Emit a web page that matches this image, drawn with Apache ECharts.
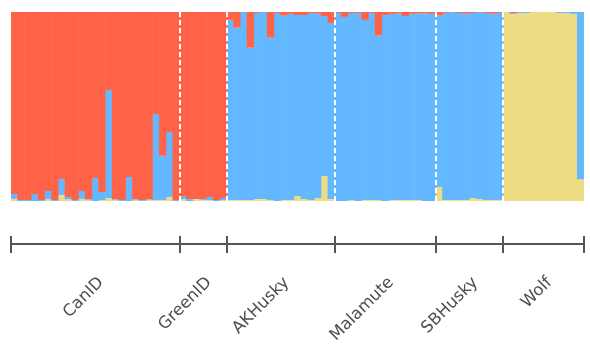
<!DOCTYPE html>
<html>
<head>
<meta charset="utf-8">
<title>Ancestry proportions</title>
<script src="https://cdn.jsdelivr.net/npm/echarts@6/dist/echarts.min.js"></script>
</head>
<body style="margin:0;background:#fff">
<div id="main" style="width:590px;height:354px;"></div>
<script>
// group names and number of individuals per group
var groups = ['CanID', 'GreenID', 'AKHusky', 'Malamute', 'SBHusky', 'Wolf'];
var groupSizes = [25, 7, 16, 15, 10, 12];

// ancestry proportions per individual (bottom -> top: yellow, blue, red)
var yellow = [
  0.011, 0, 0, 0, 0, 0.009, 0, 0.032, 0.009, 0, 0.011, 0.004, 0, 0.005, 0.016, 0.004, 0, 0, 0.004, 0, 0.005, 0.005, 0.005, 0.021, 0,
  0.01, 0, 0.01, 0.005, 0.005, 0, 0.005,
  0.005, 0.005, 0.005, 0.005, 0.01, 0.01, 0.005, 0, 0.005, 0.005, 0.026, 0.01, 0.005, 0.016, 0.132, 0.01,
  0, 0, 0.005, 0, 0.005, 0.005, 0.005, 0, 0.005, 0.005, 0.005, 0.005, 0.005, 0, 0,
  0.074, 0.005, 0.005, 0.005, 0.005, 0.016, 0.01, 0.005, 0.005, 0.005,
  1, 0.99, 0.995, 0.995, 1, 1, 1, 1, 0.995, 0.995, 0.99, 0.115
];
var blue = [
  0.026, 0.005, 0.005, 0.037, 0.005, 0.044, 0.005, 0.084, 0.012, 0.005, 0.042, 0.005, 0.122, 0.043, 0.571, 0.005, 0.005, 0.127, 0.005, 0.005, 0.004, 0.455, 0.235, 0.344, 0.005,
  0.016, 0.01, 0, 0.005, 0.016, 0.005, 0.011,
  0.953, 0.912, 0.995, 0.806, 0.985, 0.99, 0.859, 0.995, 0.976, 0.985, 0.958, 0.974, 0.99, 0.975, 0.847, 0.932,
  0.995, 0.974, 0.99, 0.995, 0.953, 0.99, 0.87, 0.984, 0.985, 0.988, 0.974, 0.985, 0.988, 0.993, 0.99,
  0.907, 0.99, 0.995, 0.99, 0.986, 0.979, 0.99, 0.99, 0.986, 0.99,
  0, 0.005, 0.005, 0.005, 0, 0, 0, 0, 0.005, 0.005, 0.01, 0.885
];
var red = [
  0.963, 0.995, 0.995, 0.963, 0.995, 0.947, 0.995, 0.884, 0.979, 0.995, 0.947, 0.991, 0.878, 0.952, 0.413, 0.991, 0.995, 0.873, 0.991, 0.995, 0.991, 0.54, 0.76, 0.635, 0.995,
  0.974, 0.99, 0.99, 0.99, 0.979, 0.995, 0.984,
  0.042, 0.083, 0, 0.189, 0.005, 0, 0.136, 0.005, 0.019, 0.01, 0.016, 0.016, 0.005, 0.009, 0.021, 0.058,
  0.005, 0.026, 0.005, 0.005, 0.042, 0.005, 0.125, 0.016, 0.01, 0.007, 0.021, 0.01, 0.007, 0.007, 0.01,
  0.019, 0.005, 0, 0.005, 0.009, 0.005, 0, 0.005, 0.009, 0.005,
  0, 0.005, 0, 0, 0, 0, 0, 0, 0, 0, 0, 0
];

var individuals = [];
for (var i = 0; i < red.length; i++) individuals.push(i + 1);

var bounds = [0]; // group edges, in individuals
var labelPos = [];
var labelName = {};
for (var g = 0; g < groupSizes.length; g++) {
  var start = bounds[bounds.length - 1];
  var mid = start + groupSizes[g] / 2;
  labelPos.push(mid);
  labelName[mid] = groups[g];
  bounds.push(start + groupSizes[g]);
}
var inner = bounds.slice(1, bounds.length - 1);
var total = red.length;

var myChart = echarts.init(document.getElementById('main'));
var option = {
  animation: false,
  grid: { left: 11, right: 6, top: 12, bottom: 153 },
  xAxis: [{
    type: 'category',
    data: individuals,
    show: false
  }, {
    type: 'value',
    min: 0,
    max: total,
    position: 'bottom',
    offset: 43,
    splitLine: { show: false },
    axisLine: { show: true, lineStyle: { color: '#555555', width: 2 } },
    axisTick: { show: true, inside: false, length: 9, customValues: bounds,
      lineStyle: { color: '#555555', width: 2 } },
    axisLabel: {
      customValues: labelPos,
      rotate: 45,
      margin: 30,
      align: 'right',
      verticalAlign: 'top',
      fontFamily: 'DejaVu Sans',
      fontSize: 16.5,
      color: '#4d4d4d',
      formatter: function (v) { return labelName[v] || ''; }
    }
  }, {
    type: 'value',
    min: 0,
    max: total,
    position: 'bottom',
    offset: 43,
    splitLine: { show: false },
    axisLine: { show: false },
    axisTick: { show: true, inside: true, length: 8, customValues: bounds,
      lineStyle: { color: '#555555', width: 2 } },
    axisLabel: { show: false }
  }],
  yAxis: { type: 'value', min: 0, max: 1, show: false },
  series: [{
    name: 'K3', type: 'bar', stack: 'q', data: yellow, barWidth: '108%',
    itemStyle: { color: '#EEDC82' }
  }, {
    name: 'K2', type: 'bar', stack: 'q', data: blue, barWidth: '108%',
    itemStyle: { color: '#63B8FF' }
  }, {
    name: 'K1', type: 'bar', stack: 'q', data: red, barWidth: '108%',
    itemStyle: { color: '#FF6347' }
  }, {
    name: 'edges', type: 'line', xAxisIndex: 1, data: [],
    markLine: {
      silent: true,
      symbol: 'none',
      label: { show: false },
      lineStyle: { color: '#ffffff', width: 2, type: [5, 3] },
      data: inner.map(function (b) { return { xAxis: b }; })
    }
  }]
};
myChart.setOption(option);
window.onresize = myChart.resize;
</script>
</body>
</html>
